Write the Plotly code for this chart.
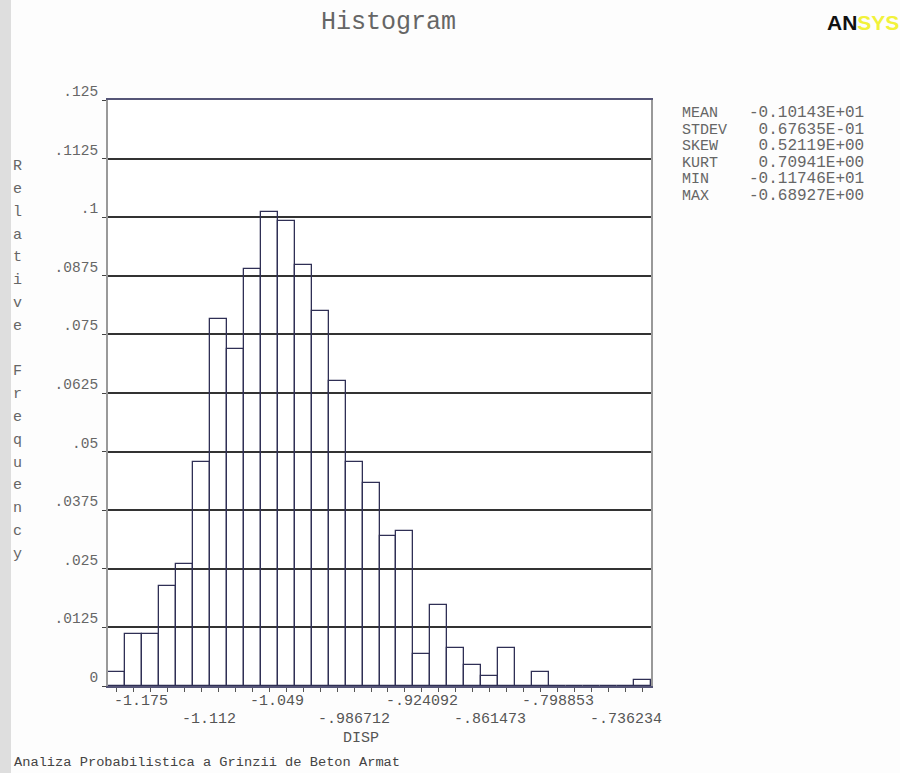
import plotly.graph_objects as go

# ---------------- data ----------------
stat_names = ["MEAN", "STDEV", "SKEW", "KURT", "MIN", "MAX"]
stat_values = ["-0.10143E+01", " 0.67635E-01", " 0.52119E+00", " 0.70941E+00", "-0.11746E+01", "-0.68927E+00"]
x_min = -1.17457
x_max = -0.68927
rel_freq = [0.0030, 0.0111, 0.0111, 0.0213, 0.0261, 0.0478, 0.0782, 0.0719,
            0.0890, 0.1011, 0.0991, 0.0899, 0.0800, 0.0650, 0.0478, 0.0432,
            0.0321, 0.0330, 0.0069, 0.0172, 0.0081, 0.0044, 0.0022, 0.0081,
            0.0000, 0.0030, 0.0000, 0.0000, 0.0000, 0.0000, 0.0000, 0.0012]
x_tick_labels = ["-1.175", "-1.112", "-1.049", "-.986712", "-.924092", "-.861473", "-.798853", "-.736234"]
y_tick_vals = [0, 0.0125, 0.025, 0.0375, 0.05, 0.0625, 0.075, 0.0875, 0.1, 0.1125, 0.125]
y_tick_text = ["0", ".0125", ".025", ".0375", ".05", ".0625", ".075", ".0875", ".1", ".1125", ".125"]
y_title = "Relative Frequency"
x_title = "DISP"
chart_title = "Histogram"
footer = "Analiza Probabilistica a Grinzii de Beton Armat"

# ---------------- geometry ----------------
W, H = 900, 773
L, R, T, B = 108, 249, 100, 87
PW, PH = W - L - R, H - T - B

def px(xp):
    return (xp - L) / PW

def py(yp):
    return (H - B - yp) / PH

n = len(rel_freq)
bw = (x_max - x_min) / (n - 1)
centers = [x_min + i * bw for i in range(n)]

MONO = "Liberation Mono, Courier New, monospace"
TXT = "#555555"

fig = go.Figure()
fig.add_trace(go.Bar(
    x=centers, y=rel_freq, width=bw,
    marker=dict(color="rgba(255,255,255,0)", line=dict(color="#2f2f55", width=1.3)),
    hoverinfo="x+y",
))

annotations = []
# title
annotations.append(dict(text=chart_title, x=px(388), y=py(22), xref="paper", yref="paper",
                        showarrow=False, xanchor="center", yanchor="middle",
                        font=dict(family=MONO, size=25, color="#666666")))
# ANSYS logo
annotations.append(dict(text="<b><span style='color:#111111'>AN</span><span style='color:#f2f23a'>SYS</span></b>",
                        x=px(825), y=py(22), xref="paper", yref="paper", showarrow=False,
                        xanchor="left", yanchor="middle",
                        font=dict(family="Liberation Sans, Arial", size=21)))
# stats block: one multi-line annotation per column (line pitch ~16.6 px)
row_pitch = 16.6
base_size = row_pitch / 1.3
names_txt = "<br>".join(f"<span style='font-size:15px'>{nm}</span>" for nm in stat_names)
vals_txt = "<br>".join(f"<span style='font-size:16px'>{v.replace(' ', '&nbsp;')}</span>" for v in stat_values)
stats_mid = 113.3 + row_pitch * (len(stat_names) - 1) / 2
annotations.append(dict(text=names_txt, x=px(681), y=py(stats_mid), xref="paper", yref="paper",
                        showarrow=False, xanchor="left", yanchor="middle", align="left", borderpad=0,
                        font=dict(family=MONO, size=base_size, color="#666666")))
annotations.append(dict(text=vals_txt, x=px(748), y=py(stats_mid), xref="paper", yref="paper",
                        showarrow=False, xanchor="left", yanchor="middle", align="left", borderpad=0,
                        font=dict(family=MONO, size=base_size, color="#666666")))
# vertical y title, letter by letter
for i, ch in enumerate(y_title):
    if ch == " ":
        continue
    annotations.append(dict(text=ch, x=px(17), y=py(166.7 + 22.8 * i), xref="paper", yref="paper",
                            showarrow=False, xanchor="center", yanchor="middle",
                            font=dict(family=MONO, size=15, color="#666666")))
# x tick labels (every 4th bin centre, staggered, left-aligned)
for k, lab in enumerate(x_tick_labels):
    xv = centers[4 * k]
    yrow = 701.5 if k % 2 == 0 else 719
    annotations.append(dict(text=lab, x=xv, y=py(yrow), xref="x", yref="paper", showarrow=False,
                            xanchor="left", yanchor="middle", xshift=-3, borderpad=0,
                            font=dict(family=MONO, size=15, color=TXT)))
# x title
annotations.append(dict(text=x_title, x=px(361), y=py(739), xref="paper", yref="paper", showarrow=False,
                        xanchor="center", yanchor="middle", borderpad=0,
                        font=dict(family=MONO, size=15, color=TXT)))
# footer
annotations.append(dict(text=footer, x=px(12), y=py(762), xref="paper", yref="paper", showarrow=False,
                        xanchor="left", yanchor="middle", font=dict(family=MONO, size=13.7, color="#444444")))

shapes = [
    dict(type="rect", xref="paper", yref="paper", x0=px(0), x1=px(11), y0=py(H), y1=py(0),
         fillcolor="#dedede", line=dict(width=0), layer="below"),
]

fig.update_layout(
    width=W, height=H,
    margin=dict(l=L, r=R, t=T, b=B, pad=0),
    paper_bgcolor="#fdfdfd", plot_bgcolor="#ffffff",
    showlegend=False,
    bargap=0,
    annotations=annotations,
    shapes=shapes,
    xaxis=dict(range=[x_min - bw / 2, x_max + bw / 2], tickvals=centers, showticklabels=False,
               ticks="outside", ticklen=4, tickcolor="#555555", tickwidth=1,
               showgrid=False, zeroline=False, showline=True, linecolor="#555577", linewidth=1.5,
               mirror=True, fixedrange=True),
    yaxis=dict(range=[0, 0.125], tickvals=y_tick_vals, ticktext=y_tick_text,
               ticks="outside", ticklen=4, tickcolor="#444444",
               tickfont=dict(family=MONO, size=14.5, color="#666666"),
               ticklabelshift=-9, ticklabelstandoff=1,
               showgrid=True, gridcolor="#333333", gridwidth=1.5,
               zeroline=False, showline=True, linecolor="#999999", linewidth=2, mirror=True,
               fixedrange=True),
)

fig.write_html("out.html")
